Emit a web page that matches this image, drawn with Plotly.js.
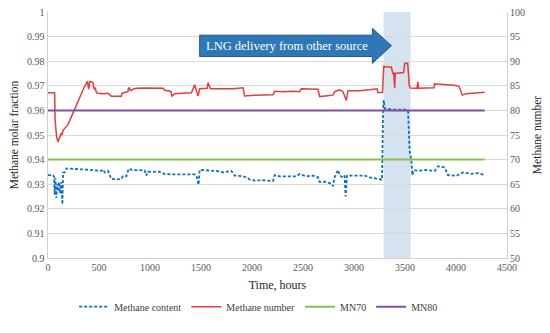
<!DOCTYPE html>
<html>
<head>
<meta charset="utf-8">
<script src="https://cdn.plot.ly/plotly-3.0.1.min.js"></script>
<style>html,body{margin:0;padding:0;background:#fff;}#chart{width:550px;height:333px;}</style>
</head>
<body>
<div id="chart"></div>
<script>
// Methane content (left axis, molar fraction)
var contentHours = [0,49,59,66,72,82,90,98,108,118,131,141,148,164,180,260,350,420,458,490,523,539,556,588,605,621,680,719,736,768,784,801,817,880,948,964,980,1030,1080,1111,1144,1250,1350,1438,1455,1477,1487,1569,1651,1716,1798,1830,1900,1945,1978,2027,2110,2206,2223,2272,2350,2435,2467,2533,2598,2647,2663,2720,2778,2794,2810,2843,2860,2892,2908,2918,2931,2958,3056,3105,3154,3252,3275,3285,3291,3301,3400,3513,3530,3546,3562,3572,3585,3650,3709,3791,3824,3889,3922,4003,4069,4150,4220,4281];
var contentValues = [0.9337,0.9337,0.9330,0.9257,0.9325,0.9244,0.9302,0.9270,0.9309,0.9263,0.9309,0.9218,0.9347,0.9348,0.9364,0.9363,0.9361,0.9358,0.9356,0.9354,0.9354,0.9360,0.9348,0.9354,0.9332,0.9321,0.9320,0.9321,0.9333,0.9332,0.9354,0.9364,0.9358,0.9357,0.9356,0.9335,0.9351,0.9350,0.9352,0.9347,0.9341,0.9340,0.9341,0.9340,0.9335,0.9298,0.9358,0.9355,0.9354,0.9348,0.9354,0.9335,0.9333,0.9328,0.9319,0.9315,0.9316,0.9313,0.9337,0.9332,0.9333,0.9332,0.9341,0.9332,0.9335,0.9328,0.9309,0.9310,0.9302,0.9292,0.9328,0.9358,0.9335,0.9328,0.9335,0.9250,0.9335,0.9335,0.9338,0.9335,0.9328,0.9321,0.9318,0.9600,0.9642,0.9607,0.9603,0.9603,0.9595,0.9432,0.9400,0.9337,0.9356,0.9355,0.9358,0.9354,0.9373,0.9368,0.9337,0.9334,0.9348,0.9342,0.9345,0.9337];

// Methane number (right axis)
var numberHours = [0,65,70,76,85,98,108,115,125,131,137,147,170,196,250,300,350,376,386,399,409,441,451,464,474,490,540,588,605,621,680,719,726,784,791,811,834,866,950,1050,1128,1144,1203,1216,1242,1320,1406,1438,1455,1471,1487,1536,1560,1569,1592,1700,1814,1912,1928,1945,2100,2206,2223,2300,2400,2467,2484,2560,2647,2663,2794,2810,2859,2892,2925,2941,3055,3150,3226,3235,3280,3292,3301,3366,3382,3390,3399,3405,3487,3497,3526,3542,3552,3617,3627,3632,3700,3784,3790,3900,3980,4030,4062,4100,4200,4270,4281];
var numberValues = [83.6,83.6,78,75.4,74.5,73.6,74.2,74.6,75.0,75.4,75.0,75.9,76.5,77.1,79.7,82.2,84.5,85.5,85.9,84.3,85.9,85.7,84.3,84.6,83.6,83.5,83.4,83.5,83.2,82.9,82.9,82.9,83.5,83.8,84.7,84.0,84.3,84.5,84.55,84.55,84.5,84.1,83.9,82.9,83.4,83.5,83.6,85.2,83.8,82.9,84.4,84.4,84.5,85.6,84.4,84.4,84.4,84.6,82.9,83.0,83.1,83.2,83.9,83.8,83.9,83.8,84.4,84.3,84.3,82.8,83.1,83.8,84.2,83.8,82.0,84.0,84.0,84.2,84.4,83.6,83.7,89.1,88.8,88.8,87.5,87.6,84.5,87.5,87.7,89.55,89.6,85.0,84.55,84.5,85.8,84.5,84.5,84.6,85.4,85.3,85.1,84.9,83.1,83.4,83.6,83.8,83.7];

// Reference lines
var mnHours = [0, 4281];
var mn70Values = [70, 70];
var mn80Values = [80, 80];

// LNG delivery period (hours)
var lngPeriod = [3290, 3555];
var lngLabel = "LNG delivery from other source";

var seriesNames = ["Methane content", "Methane number", "MN70", "MN80"];

var FONT = "Liberation Serif, DejaVu Serif, Times New Roman, serif";

var traces = [
  {x: contentHours, y: contentValues, name: seriesNames[0], type: "scatter", mode: "lines",
   line: {color: "#0a70c8", width: 1.8, dash: "3px,2px"}, yaxis: "y"},
  {x: numberHours, y: numberValues, name: seriesNames[1], type: "scatter", mode: "lines",
   line: {color: "#e63c3c", width: 1.5}, yaxis: "y2"},
  {x: mnHours, y: mn70Values, name: seriesNames[2], type: "scatter", mode: "lines",
   line: {color: "#8cc04a", width: 2}, yaxis: "y2"},
  {x: mnHours, y: mn80Values, name: seriesNames[3], type: "scatter", mode: "lines",
   line: {color: "#7f4fa0", width: 2}, yaxis: "y2"}
];

var layout = {
  width: 550, height: 333,
  margin: {l: 48, r: 43, t: 12, b: 64},
  paper_bgcolor: "#fff", plot_bgcolor: "#fff",
  font: {family: FONT, size: 9, color: "#595959"},
  showlegend: true,
  legend: {orientation: "h", x: 0.459, xanchor: "center", y: -0.198, yanchor: "middle",
           font: {family: FONT, size: 10, color: "#404040"}, itemwidth: 30, tracegroupgap: 0},
  xaxis: {range: [0, 4500], dtick: 500, tick0: 0, showgrid: false, zeroline: false,
          showline: true, linecolor: "#d0d0d0", linewidth: 1, ticks: "",
          tickfont: {family: FONT, size: 10, color: "#595959"},
          title: {text: "Time, hours", font: {family: FONT, size: 12, color: "#262626"}, standoff: 8}},
  yaxis: {range: [0.9, 1], dtick: 0.01, tick0: 0.9, showgrid: true, gridcolor: "#d9d9d9", gridwidth: 1,
          zeroline: false, showline: true, linecolor: "#d0d0d0", linewidth: 1.5, ticks: "",
          tickfont: {family: FONT, size: 10, color: "#595959"},
          title: {text: "Methane molar fraction", font: {family: FONT, size: 11.5, color: "#262626"}, standoff: 6}},
  yaxis2: {range: [50, 100], dtick: 5, tick0: 50, overlaying: "y", side: "right", showgrid: false,
           zeroline: false, showline: true, linecolor: "#d0d0d0", linewidth: 1, ticks: "",
           tickfont: {family: FONT, size: 10, color: "#595959"},
           title: {text: "Methane number", font: {family: FONT, size: 11.5, color: "#262626"}, standoff: 8}},
  shapes: [
    {type: "rect", xref: "x", yref: "paper", x0: lngPeriod[0], x1: lngPeriod[1], y0: 0, y1: 1,
     fillcolor: "#d5e3f1", line: {width: 0}, layer: "below"},
    {type: "path", xref: "x", yref: "y", layer: "above",
     path: "M 1487 0.99058 L 3180 0.99058 L 3180 0.99339 L 3367 0.98630 L 3180 0.97911 L 3180 0.98191 L 1487 0.98191 Z",
     fillcolor: "#2e78b7", line: {color: "#1f5a8e", width: 1}}
  ],
  annotations: [
    {x: 2340, y: 0.98624, xref: "x", yref: "y", text: lngLabel, showarrow: false,
     font: {family: FONT, size: 12.5, color: "#ffffff"}, xanchor: "center", yanchor: "middle"}
  ]
};

Plotly.newPlot("chart", traces, layout, {displayModeBar: false, staticPlot: true});
</script>
</body>
</html>
